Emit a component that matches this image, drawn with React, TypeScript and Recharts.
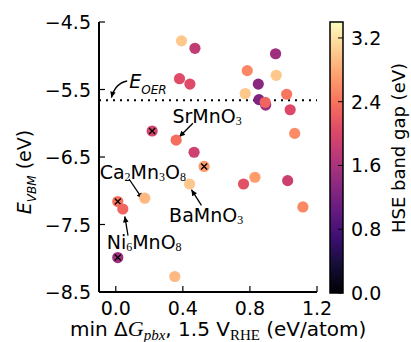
import React from 'react'
import {
  ScatterChart,
  Scatter,
  XAxis,
  YAxis,
  ReferenceLine,
  ReferenceDot,
} from 'recharts'

// min dG_pbx at 1.5 V_RHE (eV/atom)
const dGpbx = [
  0.392, 0.472, 0.38, 0.442, 0.217, 0.36, 0.467, 0.953, 0.784, 0.957,
  0.85, 0.772, 1.019, 0.854, 0.894, 0.891, 1.04, 1.067, 0.527, 0.44,
  0.173, 0.012, 0.042, 0.012, 0.352, 0.762, 0.83, 1.025, 1.116,
]
// valence band maximum (eV)
const eVBM = [
  -4.78, -4.89, -5.34, -5.42, -6.115, -6.25, -6.43, -4.97, -5.22, -5.29,
  -5.42, -5.56, -5.57, -5.65, -5.73, -5.69, -5.8, -6.15, -6.64, -6.9,
  -7.11, -7.16, -7.27, -7.99, -8.27, -6.9, -6.8, -6.85, -7.24,
]
// HSE band gap (eV)
const hseGap = [
  3.0, 1.8, 2.07, 2.05, 1.95, 2.35, 1.9, 1.5, 2.55, 3.0,
  1.33, 3.0, 2.42, 1.25, 1.5, 2.28, 2.03, 2.58, 2.68, 3.0,
  2.9, 2.38, 2.28, 1.5, 2.9, 2.1, 2.7, 1.87, 2.55,
]
const crossed = [
  false, false, false, false, true, false, false, false, false, false,
  false, false, false, false, false, false, false, false, true, false,
  false, true, false, true, false, false, false, false, false,
]

const xTicks = [0, 0.4, 0.8, 1.2]
const yTicks = [-8.5, -7.5, -6.5, -5.5, -4.5]
const cbarTicks = [0, 0.8, 1.6, 2.4, 3.2]
const GAP_MAX = 3.4
const E_OER = -5.66

// formula labels: even parts normal, odd parts subscript
const labels = [
  { parts: ['SrMnO', '3'], x: 0.338, y: -5.996 },
  { parts: ['Ca', '2', 'Mn', '3', 'O', '8'], x: -0.096, y: -6.826 },
  { parts: ['BaMnO', '3'], x: 0.318, y: -7.463 },
  { parts: ['Ni', '6', 'MnO', '8'], x: -0.054, y: -7.863 },
]
const arrows = [
  { x1: 0.46, y1: -6.0, x2: 0.378, y2: -6.204 },
  { x1: 0.079, y1: -6.826, x2: 0.159, y2: -7.122 },
  { x1: 0.511, y1: -7.217, x2: 0.451, y2: -6.984 },
  { x1: 0.073, y1: -7.666, x2: 0.054, y2: -7.38 },
]
const oerLabel = { x: 0.08, y: -5.484 }
const oerArrow = { x1: 0.068, y1: -5.374, x2: -0.026, y2: -5.621 }

const MAGMA = [
  '#000004', '#140e36', '#3b0f70', '#641a80', '#8c2981', '#b73779',
  '#de4968', '#f7705c', '#fe9f6d', '#fecf92', '#fcfdbf',
]

function magma(t: number) {
  const v = Math.max(0, Math.min(1, t)) * (MAGMA.length - 1)
  const i = Math.min(Math.floor(v), MAGMA.length - 2)
  const f = v - i
  const a = MAGMA[i]
  const b = MAGMA[i + 1]
  const ch = (h: string, k: number) => parseInt(h.slice(1 + k * 2, 3 + k * 2), 16)
  const c = [0, 1, 2].map((k) => Math.round(ch(a, k) + (ch(b, k) - ch(a, k)) * f))
  return `rgb(${c[0]},${c[1]},${c[2]})`
}

const data = dGpbx.map((x, i) => ({
  x,
  y: eVBM[i],
  gap: hseGap[i],
  crossed: crossed[i],
}))

const FONT = 'DejaVu Sans'
const SERIF = 'Liberation Serif'
const fmtY = (v: number) => (v < 0 ? '\u2212' : '') + Math.abs(v).toFixed(1)

const BottomTick = (p: any) => (
  <g>
    <line x1={p.x} y1={p.y} x2={p.x} y2={p.y - 6} stroke="#000" strokeWidth={1.2} />
    <text x={p.x} y={p.y + 23} textAnchor="middle" fontFamily={FONT} fontSize={19} fill="#000">
      {Number(p.payload.value).toFixed(1)}
    </text>
  </g>
)
const TopTick = (p: any) => (
  <line x1={p.x} y1={p.y} x2={p.x} y2={p.y + 6} stroke="#000" strokeWidth={1.2} />
)
const LeftTick = (p: any) => (
  <g>
    <line x1={p.x} y1={p.y} x2={p.x + 6} y2={p.y} stroke="#000" strokeWidth={1.2} />
    <text x={p.x - 8} y={p.y + 7} textAnchor="end" fontFamily={FONT} fontSize={19} fill="#000">
      {fmtY(p.payload.value)}
    </text>
  </g>
)
const RightTick = (p: any) => (
  <line x1={p.x} y1={p.y} x2={p.x - 6} y2={p.y} stroke="#000" strokeWidth={1.2} />
)

const Dot = (p: any) => {
  const { cx, cy, payload } = p
  return (
    <g>
      <circle cx={cx} cy={cy} r={5.6} fill={magma(payload.gap / GAP_MAX)} />
      {payload.crossed && (
        <path
          d={`M${cx - 3},${cy - 3}L${cx + 3},${cy + 3}M${cx - 3},${cy + 3}L${cx + 3},${cy - 3}`}
          stroke="#000"
          strokeWidth={1.3}
        />
      )}
    </g>
  )
}

function arrowHead(x1: number, y1: number, x2: number, y2: number) {
  const a = Math.atan2(y2 - y1, x2 - x1)
  const L = 6
  const W = 2.8
  const bx = x2 - L * Math.cos(a)
  const by = y2 - L * Math.sin(a)
  const nx = -Math.sin(a) * W
  const ny = Math.cos(a) * W
  return `M${x2},${y2}L${bx + nx},${by + ny}L${bx - nx},${by - ny}Z`
}

const StraightArrow = (p: any) => (
  <g>
    <line x1={p.x1} y1={p.y1} x2={p.x2} y2={p.y2} stroke="#000" strokeWidth={1.3} />
    <path d={arrowHead(p.x1, p.y1, p.x2, p.y2)} fill="#000" />
  </g>
)

const CurvedArrow = (p: any) => {
  const qx = p.x2 + 4
  const qy = p.y1 + 2
  return (
    <g>
      <path d={`M${p.x1},${p.y1}Q${qx},${qy} ${p.x2},${p.y2}`} fill="none" stroke="#000" strokeWidth={1.3} />
      <path d={arrowHead(qx, qy, p.x2, p.y2)} fill="#000" />
    </g>
  )
}

const FormulaText = (parts: string[]) => (p: any) => (
  <text x={p.cx} y={p.cy} fontFamily={FONT} fontSize={19} fill="#000">
    {parts.map((s, i) =>
      i % 2 === 0 ? (
        <tspan key={i} dy={i === 0 ? 0 : -2}>{s}</tspan>
      ) : (
        <tspan key={i} dy={2} fontFamily={SERIF} fontSize={12}>{s}</tspan>
      ),
    )}
  </text>
)

const OerText = (p: any) => (
  <text x={p.cx} y={p.cy} fontFamily={FONT} fontSize={19} fontStyle="italic" fill="#000">
    <tspan>E</tspan>
    <tspan dy={6} fontSize={12}>OER</tspan>
  </text>
)

const CB = { x: 330, y: 22, w: 13, h: 271 }
const cbY = (v: number) => CB.y + CB.h - (v / GAP_MAX) * CB.h

export default function App() {
  return (
    <div style={{ position: 'absolute', left: 0, top: 0, width: 411, height: 342, background: '#fff' }}>
      <ScatterChart width={411} height={342} margin={{ top: 22, right: 94, bottom: 0, left: 0 }}>
        <XAxis
          type="number"
          dataKey="x"
          domain={[-0.1, 1.2]}
          ticks={xTicks}
          allowDataOverflow
          height={50}
          tickSize={0}
          tickMargin={0}
          tickLine={false}
          axisLine={{ stroke: '#000', strokeWidth: 2 }}
          tick={<BottomTick />}
        />
        <XAxis
          xAxisId="top"
          orientation="top"
          type="number"
          domain={[-0.1, 1.2]}
          ticks={xTicks}
          allowDataOverflow
          height={0}
          tickSize={0}
          tickMargin={0}
          tickLine={false}
          axisLine={{ stroke: '#000', strokeWidth: 2 }}
          tick={<TopTick />}
        />
        <YAxis
          type="number"
          dataKey="y"
          domain={[-8.5, -4.5]}
          ticks={yTicks}
          allowDataOverflow
          width={99}
          tickSize={0}
          tickMargin={0}
          tickLine={false}
          axisLine={{ stroke: '#000', strokeWidth: 2 }}
          tick={<LeftTick />}
        />
        <YAxis
          yAxisId="right"
          orientation="right"
          type="number"
          domain={[-8.5, -4.5]}
          ticks={yTicks}
          allowDataOverflow
          width={0}
          tickSize={0}
          tickMargin={0}
          tickLine={false}
          axisLine={{ stroke: '#000', strokeWidth: 2 }}
          tick={<RightTick />}
        />
        <ReferenceLine y={E_OER} stroke="#000" strokeWidth={2} strokeDasharray="2 5" />
        <Scatter data={data} isAnimationActive={false} shape={<Dot />} />
        {arrows.map((a, i) => (
          <ReferenceLine
            key={`a${i}`}
            segment={[{ x: a.x1, y: a.y1 }, { x: a.x2, y: a.y2 }]}
            ifOverflow="visible"
            shape={StraightArrow}
          />
        ))}
        <ReferenceLine
          segment={[{ x: oerArrow.x1, y: oerArrow.y1 }, { x: oerArrow.x2, y: oerArrow.y2 }]}
          ifOverflow="visible"
          shape={CurvedArrow}
        />
        {labels.map((l, i) => (
          <ReferenceDot key={`l${i}`} x={l.x} y={l.y} r={0} ifOverflow="visible" shape={FormulaText(l.parts)} />
        ))}
        <ReferenceDot x={oerLabel.x} y={oerLabel.y} r={0} ifOverflow="visible" shape={OerText} />
      </ScatterChart>

      <svg width={411} height={342} style={{ position: 'absolute', left: 0, top: 0, pointerEvents: 'none' }}>
        <defs>
          <linearGradient id="magma" x1="0" y1="1" x2="0" y2="0">
            {MAGMA.map((c, i) => (
              <stop key={i} offset={i / (MAGMA.length - 1)} stopColor={c} />
            ))}
          </linearGradient>
        </defs>
        <rect x={CB.x} y={CB.y} width={CB.w} height={CB.h} fill="url(#magma)" stroke="#000" strokeWidth={1.5} />
        {cbarTicks.map((v) => (
          <g key={v}>
            <line x1={CB.x + CB.w} y1={cbY(v)} x2={CB.x + CB.w - 5} y2={cbY(v)} stroke="#000" strokeWidth={1} />
            <text x={CB.x + 21} y={cbY(v) + 7} fontFamily={FONT} fontSize={19} fill="#000">
              {v.toFixed(1)}
            </text>
          </g>
        ))}
        <text
          transform="translate(405,148) rotate(-90)"
          textAnchor="middle"
          fontFamily={FONT}
          fontSize={18}
          fill="#000"
        >
          HSE band gap (eV)
        </text>
        <text transform="translate(31,172) rotate(-90)" textAnchor="middle" fontFamily={FONT} fontSize={19} fill="#000">
          <tspan fontStyle="italic">E</tspan>
          <tspan dy={5} fontSize={12} fontStyle="italic">VBM</tspan>
          <tspan dy={-5}> (eV)</tspan>
        </text>
        <text x={70} y={336} fontFamily={FONT} fontSize={20} fill="#000">
          <tspan>min Δ</tspan>
          <tspan fontFamily={SERIF} fontStyle="italic" fontSize={22}>G</tspan>
          <tspan dy={4} fontFamily={SERIF} fontStyle="italic" fontSize={15}>pbx</tspan>
          <tspan dy={-4}>, 1.5 V</tspan>
          <tspan dy={4} fontFamily={SERIF} fontSize={15}>RHE</tspan>
          <tspan dy={-4}> (eV/atom)</tspan>
        </text>
      </svg>
    </div>
  )
}
